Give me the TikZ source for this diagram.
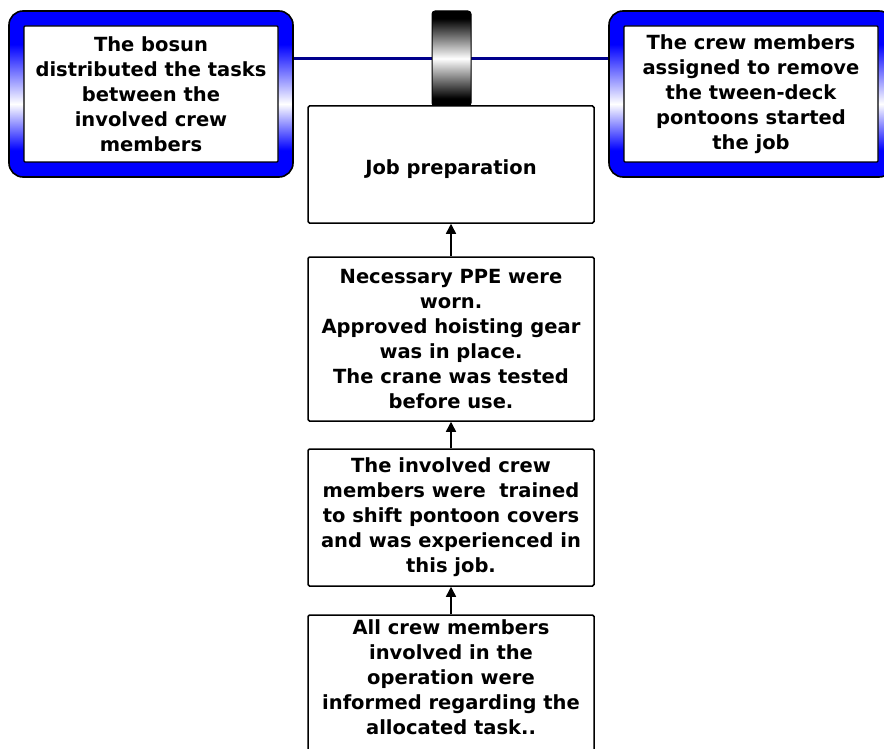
\documentclass[tikz,border=0pt]{standalone}
\usepackage{fontspec}
\setmainfont{DejaVu Sans}
\usetikzlibrary{arrows.meta}

% blue frame: solid blue at top and bottom, fading to white just below the middle
\pgfdeclareverticalshading{bandblue}{100bp}{color(0bp)=(blue); color(33bp)=(blue); color(47bp)=(white); color(65bp)=(blue); color(100bp)=(blue)}
% drum: black ends with a bright band in the middle
\pgfdeclareverticalshading{drum}{100bp}{color(0bp)=(black); color(29bp)=(black); color(50bp)=(white); color(71bp)=(black); color(100bp)=(black)}

\definecolor{linknavy}{RGB}{0,0,140}

\tikzset{
  txt/.style={font=\bfseries\fontsize{19.5}{25}\selectfont, align=center},
  frame/.style={draw=black, line width=1.6pt, rounded corners=14pt, shading=bandblue,
    minimum width=284pt, minimum height=166pt, inner sep=0pt},
  eventbox/.style={draw=black, line width=1.3pt, fill=white, rounded corners=1pt,
    minimum width=254pt, minimum height=136pt, inner sep=0pt, txt},
  stepbox/.style={draw=black, line width=1.5pt, fill=white, rounded corners=1.5pt,
    minimum width=286pt, inner sep=0pt, txt},
  link/.style={draw=linknavy, line width=2.8pt},
  arr/.style={draw=black, line width=1.5pt, -{Triangle[length=10pt,width=10pt]}},
}

\begin{document}
\begin{tikzpicture}[x=1pt,y=-1pt]
  \clip (0,0) rectangle (884,749);
  \fill[white] (0,0) rectangle (884,749);

  % events on either side
  \node[frame] (lout) at (151,94) {};
  \node[eventbox] (lin) at (151,94) {The bosun\\distributed the tasks\\between the\\involved crew\\members};
  \node[frame] (rout) at (751,94) {};
  \node[eventbox] (rin) at (751,94) {The crew members\\assigned to remove\\the tween-deck\\pontoons started\\the job};

  % barrier drum sitting on the link between the two events
  \coordinate (drumc) at (451.5,58.5);
  \draw[link] (lout.east |- drumc) -- (rout.west |- drumc);
  \node[draw=black, line width=1pt, rounded corners=3pt, shading=drum,
        minimum width=39pt, minimum height=95pt, inner sep=0pt] (drum) at (drumc) {};

  % chain of contributing conditions
  \node[stepbox, minimum height=117pt] (job) at (451,164.5) {\raisebox{-5pt}[\height][\depth]{Job preparation}};
  \node[stepbox, minimum height=164pt] (ppe) at (451,339) {Necessary PPE were\\worn.\\Approved hoisting gear\\was in place.\\The crane was tested\\before use.};
  \node[stepbox, minimum height=137pt] (train) at (451,517.5) {The involved crew\\members were\ \ trained\\to shift pontoon covers\\and was experienced in\\this job.};
  \node[stepbox, minimum height=175pt] (info) at (451,702.5) {};
  \node[txt, inner sep=0pt] (infot) at (451,677.5) {All crew members\\involved in the\\operation were\\informed regarding the\\allocated task..};

  \draw[arr] (ppe.north) -- (job.south);
  \draw[arr] (train.north) -- (ppe.south);
  \draw[arr] (info.north) -- (train.south);
\end{tikzpicture}
\end{document}
